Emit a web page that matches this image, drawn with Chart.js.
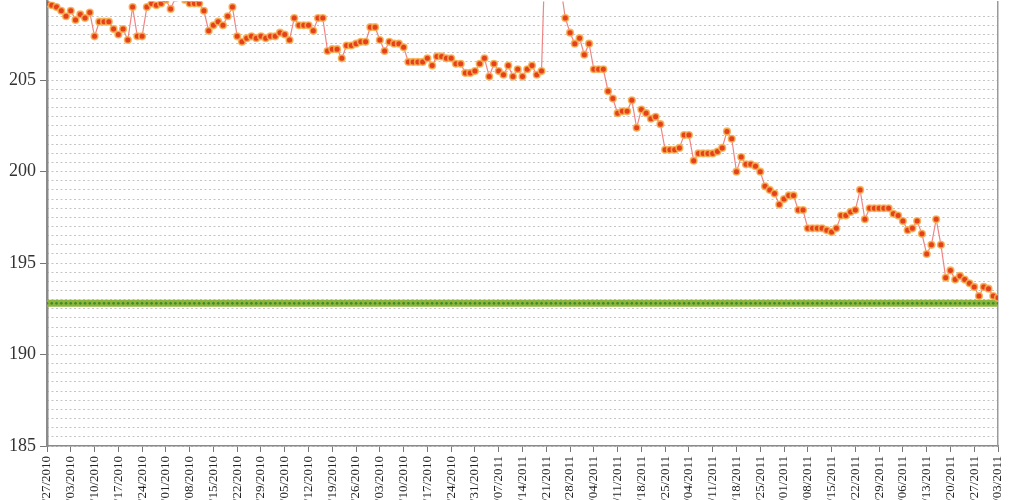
<!DOCTYPE html>
<html>
<head>
<meta charset="utf-8">
<script src="https://cdn.jsdelivr.net/npm/chart.js@4/dist/chart.umd.min.js"></script>
<style>
  html, body { margin: 0; padding: 0; background: #ffffff; overflow: hidden; width: 1024px; height: 500px; }
  #wrap { position: absolute; left: 0; top: -4px; width: 1024px; height: 534px; }
</style>
</head>
<body>
<div id="wrap"><canvas id="c"></canvas></div>
<script>
// Weekly tick labels (one every 5 data points)
const dateLabels = [
  "08/27/2010","09/03/2010","09/10/2010","09/17/2010","09/24/2010","10/01/2010","10/08/2010",
  "10/15/2010","10/22/2010","10/29/2010","11/05/2010","11/12/2010","11/19/2010","11/26/2010",
  "12/03/2010","12/10/2010","12/17/2010","12/24/2010","12/31/2010",
  "01/07/2011","01/14/2011","01/21/2011","01/28/2011","02/04/2011","02/11/2011","02/18/2011",
  "02/25/2011","03/04/2011","03/11/2011","03/18/2011","03/25/2011","04/01/2011","04/08/2011",
  "04/15/2011","04/22/2011","04/29/2011","05/06/2011","05/13/2011","05/20/2011","05/27/2011",
  "06/03/2011"
];

// Price series (red/orange dots)
const priceValues = [
  209.2,209.1,209.0,208.8,208.5,208.8,208.3,208.6,208.4,208.7,
  207.4,208.2,208.2,208.2,207.8,207.5,207.8,207.2,209.0,207.4,
  207.4,209.0,209.2,209.1,209.2,209.4,208.9,209.5,209.6,209.4,
  209.2,209.2,209.2,208.8,207.7,208.0,208.2,208.0,208.5,209.0,
  207.4,207.1,207.3,207.4,207.3,207.4,207.3,207.4,207.4,207.6,
  207.5,207.2,208.4,208.0,208.0,208.0,207.7,208.4,208.4,206.6,
  206.7,206.7,206.2,206.9,206.9,207.0,207.1,207.1,207.9,207.9,
  207.2,206.6,207.1,207.0,207.0,206.8,206.0,206.0,206.0,206.0,
  206.2,205.8,206.3,206.3,206.2,206.2,205.9,205.9,205.4,205.4,
  205.5,205.9,206.2,205.2,205.9,205.5,205.3,205.8,205.2,205.6,
  205.2,205.6,205.8,205.3,205.5,214.0,213.0,212.0,210.2,208.4,
  207.6,207.0,207.3,206.4,207.0,205.6,205.6,205.6,204.4,204.0,
  203.2,203.3,203.3,203.9,202.4,203.4,203.2,202.9,203.0,202.6,
  201.2,201.2,201.2,201.3,202.0,202.0,200.6,201.0,201.0,201.0,
  201.0,201.1,201.3,202.2,201.8,200.0,200.8,200.4,200.4,200.3,
  200.0,199.2,199.0,198.8,198.2,198.5,198.7,198.7,197.9,197.9,
  196.9,196.9,196.9,196.9,196.8,196.7,196.9,197.6,197.6,197.8,
  197.9,199.0,197.4,198.0,198.0,198.0,198.0,198.0,197.7,197.6,
  197.3,196.8,196.9,197.3,196.6,195.5,196.0,197.4,196.0,194.2,
  194.6,194.1,194.3,194.1,193.9,193.7,193.2,193.7,193.6,193.2,
  193.1
];

// Flat reference series (green band)
const targetValues = [
  192.8,192.8,192.8,192.8,192.8,192.8,192.8,192.8,192.8,192.8,
  192.8,192.8,192.8,192.8,192.8,192.8,192.8,192.8,192.8,192.8,
  192.8,192.8,192.8,192.8,192.8,192.8,192.8,192.8,192.8,192.8,
  192.8,192.8,192.8,192.8,192.8,192.8,192.8,192.8,192.8,192.8,
  192.8,192.8,192.8,192.8,192.8,192.8,192.8,192.8,192.8,192.8,
  192.8,192.8,192.8,192.8,192.8,192.8,192.8,192.8,192.8,192.8,
  192.8,192.8,192.8,192.8,192.8,192.8,192.8,192.8,192.8,192.8,
  192.8,192.8,192.8,192.8,192.8,192.8,192.8,192.8,192.8,192.8,
  192.8,192.8,192.8,192.8,192.8,192.8,192.8,192.8,192.8,192.8,
  192.8,192.8,192.8,192.8,192.8,192.8,192.8,192.8,192.8,192.8,
  192.8,192.8,192.8,192.8,192.8,192.8,192.8,192.8,192.8,192.8,
  192.8,192.8,192.8,192.8,192.8,192.8,192.8,192.8,192.8,192.8,
  192.8,192.8,192.8,192.8,192.8,192.8,192.8,192.8,192.8,192.8,
  192.8,192.8,192.8,192.8,192.8,192.8,192.8,192.8,192.8,192.8,
  192.8,192.8,192.8,192.8,192.8,192.8,192.8,192.8,192.8,192.8,
  192.8,192.8,192.8,192.8,192.8,192.8,192.8,192.8,192.8,192.8,
  192.8,192.8,192.8,192.8,192.8,192.8,192.8,192.8,192.8,192.8,
  192.8,192.8,192.8,192.8,192.8,192.8,192.8,192.8,192.8,192.8,
  192.8,192.8,192.8,192.8,192.8,192.8,192.8,192.8,192.8,192.8,
  192.8,192.8,192.8,192.8,192.8,192.8,192.8,192.8,192.8,192.8,
  192.8
];

const yMin = 185;
const yMax = 209.3;
const pointsPerLabel = 5;

const serif = "'Liberation Serif', 'DejaVu Serif', serif";

const noPad = (s) => { s.paddingTop = 0; s.paddingBottom = 0; };

new Chart(document.getElementById('c'), {
  type: 'line',
  data: {
    datasets: [
      {
        label: 'Price',
        data: priceValues.map((v, i) => ({ x: i, y: v })),
        borderColor: 'rgba(238,120,120,0.9)',
        borderWidth: 1.2,
        pointRadius: 3.3,
        pointBackgroundColor: '#e5401a',
        pointBorderColor: 'rgba(246,176,80,0.85)',
        pointBorderWidth: 1.6,
        tension: 0,
        order: 1
      },
      {
        label: 'Target',
        data: targetValues.map((v, i) => ({ x: i, y: v })),
        borderColor: '#8db53c',
        borderWidth: 7,
        pointRadius: 1.3,
        pointBackgroundColor: '#3b8c2e',
        pointBorderWidth: 0,
        tension: 0,
        order: 2
      }
    ]
  },
  options: {
    responsive: true,
    maintainAspectRatio: false,
    animation: false,
    layout: { padding: { top: 0, right: 26, left: 0, bottom: 0 } },
    plugins: { legend: { display: false }, tooltip: { enabled: false } },
    scales: {
      x: {
        type: 'linear',
        min: 0,
        max: priceValues.length - 1,
        afterFit: (s) => { s.height = 84; s.paddingLeft = 0; s.paddingRight = 0; },
        grid: { drawOnChartArea: false, drawTicks: true, tickLength: 6, color: '#777', lineWidth: 1 },
        border: { display: true, color: '#8a8a8a', width: 1.5 },
        ticks: {
          stepSize: pointsPerLabel,
          autoSkip: false,
          maxRotation: 90,
          minRotation: 90,
          padding: 4,
          color: '#222',
          font: { family: serif, size: 13 },
          callback: (v) => {
            const k = v / pointsPerLabel;
            return Number.isInteger(k) && dateLabels[k] !== undefined ? dateLabels[k] : '';
          }
        }
      },
      y: {
        type: 'linear',
        position: 'left',
        min: yMin,
        max: yMax,
        afterFit: (s) => { s.width = 47; noPad(s); },
        afterBuildTicks: (s) => { s.ticks = s.ticks.filter(t => t.value % 5 === 0); },
        grid: { drawOnChartArea: false, drawTicks: true, tickLength: 7, color: '#777', lineWidth: 1 },
        border: { display: true, color: '#8a8a8a', width: 2.5 },
        ticks: {
          stepSize: 5,
          padding: 4,
          color: '#333',
          font: { family: serif, size: 18 }
        }
      },
      yGrid: {
        type: 'linear',
        position: 'left',
        min: yMin,
        max: yMax,
        afterFit: (s) => { s.width = 0; noPad(s); },
        afterBuildTicks: (s) => { s.ticks = s.ticks.filter(t => Math.abs(t.value * 2 - Math.round(t.value * 2)) < 1e-6); },
        grid: { drawOnChartArea: true, drawTicks: false, color: '#c4c4c4', lineWidth: 1 },
        border: { display: false, dash: [2, 2.5] },
        ticks: { display: false, stepSize: 0.5 }
      },
      yRight: {
        type: 'linear',
        position: 'right',
        min: yMin,
        max: yMax,
        afterFit: (s) => { s.width = 0; noPad(s); },
        grid: { drawOnChartArea: false, drawTicks: false },
        border: { display: true, color: '#9a9a9a', width: 1.5 },
        ticks: { display: false }
      }
    }
  }
});
</script>
</body>
</html>
